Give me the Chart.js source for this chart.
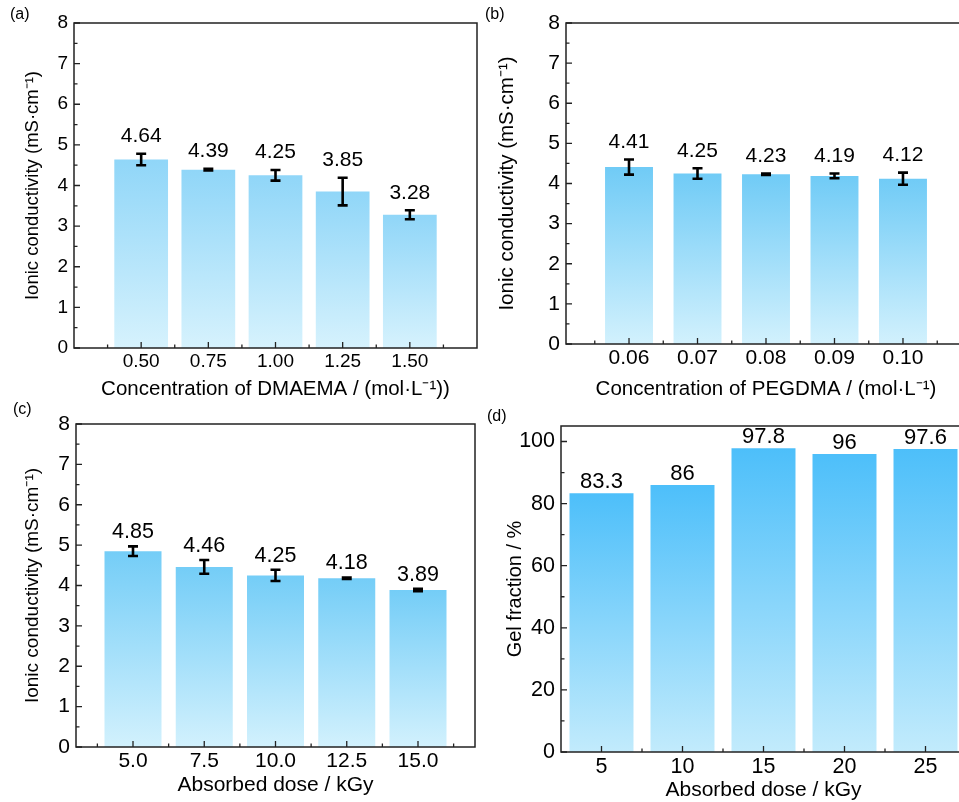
<!DOCTYPE html>
<html>
<head>
<meta charset="utf-8">
<script src="https://cdn.jsdelivr.net/npm/chart.js@4.4.1/dist/chart.umd.min.js"></script>
<style>
  html, body { margin: 0; padding: 0; background: #fff; }
  body { position: relative; width: 959px; height: 802px; overflow: hidden; }
  canvas { position: absolute; }
</style>
</head>
<body>
<canvas id="chartA" width="480" height="402" style="left:0;top:0"></canvas>
<canvas id="chartB" width="490" height="402" style="left:480px;top:0"></canvas>
<canvas id="chartC" width="480" height="398" style="left:0;top:400px"></canvas>
<canvas id="chartD" width="490" height="403" style="left:480px;top:400px"></canvas>
<script>
// (a) ionic conductivity vs DMAEMA concentration
const dmaemaConc = [0.50, 0.75, 1.00, 1.25, 1.50];
const dmaemaLabels = ['0.50', '0.75', '1.00', '1.25', '1.50'];
const dmaemaCond = [4.64, 4.39, 4.25, 3.85, 3.28];
const dmaemaErr = [0.14, 0.02, 0.13, 0.34, 0.11];

// (b) ionic conductivity vs PEGDMA concentration
const pegdmaConc = [0.06, 0.07, 0.08, 0.09, 0.10];
const pegdmaLabels = ['0.06', '0.07', '0.08', '0.09', '0.10'];
const pegdmaCond = [4.41, 4.25, 4.23, 4.19, 4.12];
const pegdmaErr = [0.19, 0.13, 0.02, 0.06, 0.15];

// (c) ionic conductivity vs absorbed dose
const doseC = [5.0, 7.5, 10.0, 12.5, 15.0];
const doseCLabels = ['5.0', '7.5', '10.0', '12.5', '15.0'];
const doseCond = [4.85, 4.46, 4.25, 4.18, 3.89];
const doseCondErr = [0.12, 0.17, 0.14, 0.02, 0.03];

// (d) gel fraction vs absorbed dose
const doseD = [5, 10, 15, 20, 25];
const doseDLabels = ['5', '10', '15', '20', '25'];
const gelFraction = [83.3, 86, 97.8, 96, 97.6];

const condTicks = [0, 1, 2, 3, 4, 5, 6, 7, 8];
const gelTicks = [0, 20, 40, 60, 80, 100];

const FONT = "'Liberation Sans', Arial, sans-serif";

function makePanel(cfg) {
    const step = cfg.xs[1] - cfg.xs[0];

    // frame, inward ticks, error bars, value labels, panel letter
    const decor = {
        id: 'decor' + cfg.canvasId,
        afterDatasetsDraw(chart) {
            const { ctx, chartArea: a } = chart;
            const x = chart.scales.x, y = chart.scales.y;
            ctx.save();

            ctx.strokeStyle = '#222';
            ctx.lineWidth = 1.3;
            ctx.beginPath();
            cfg.xs.forEach(v => {
                const px = x.getPixelForValue(v);
                ctx.moveTo(px, a.bottom); ctx.lineTo(px, a.bottom - 6);
            });
            const minorX = cfg.xs.map(v => v - step / 2).concat([cfg.xs[cfg.xs.length - 1] + step / 2]);
            minorX.filter(v => v > cfg.xMin && v < cfg.xMax).forEach(v => {
                const px = x.getPixelForValue(v);
                ctx.moveTo(px, a.bottom); ctx.lineTo(px, a.bottom - 3.5);
            });
            cfg.yTicks.forEach(v => {
                const py = y.getPixelForValue(v);
                ctx.moveTo(a.left, py); ctx.lineTo(a.left + 6, py);
            });
            for (let v = cfg.yMinor; v < cfg.yMax; v += cfg.yMinor * 2) {
                const py = y.getPixelForValue(v);
                ctx.moveTo(a.left, py); ctx.lineTo(a.left + 3.5, py);
            }
            ctx.stroke();

            ctx.lineWidth = 1.5;
            ctx.strokeRect(a.left, a.top, a.right - a.left, a.bottom - a.top);

            // error bars
            ctx.strokeStyle = '#000';
            ctx.lineWidth = 2.6;
            ctx.beginPath();
            if (cfg.errs) {
                cfg.xs.forEach((v, i) => {
                    const px = x.getPixelForValue(v);
                    const t = y.getPixelForValue(cfg.ys[i] + cfg.errs[i]);
                    const b = y.getPixelForValue(cfg.ys[i] - cfg.errs[i]);
                    ctx.moveTo(px, t); ctx.lineTo(px, b);
                    ctx.moveTo(px - 5, t); ctx.lineTo(px + 5, t);
                    ctx.moveTo(px - 5, b); ctx.lineTo(px + 5, b);
                });
            }
            ctx.stroke();

            // value labels
            ctx.fillStyle = '#000';
            ctx.font = cfg.valueFont + 'px ' + FONT;
            ctx.textAlign = 'center';
            ctx.textBaseline = 'middle';
            cfg.xs.forEach((v, i) => {
                const e = cfg.errs ? cfg.errs[i] : 0;
                const py = y.getPixelForValue(cfg.ys[i] + e) - cfg.labelGap;
                ctx.fillText(cfg.valueFmt(cfg.ys[i]), x.getPixelForValue(v), py);
            });

            ctx.font = '16px ' + FONT;
            ctx.textAlign = 'left';
            ctx.fillText(cfg.letter, cfg.letterPos[0], cfg.letterPos[1]);
            ctx.restore();
        }
    };

    const ctx = document.getElementById(cfg.canvasId).getContext('2d');
    new Chart(ctx, {
        type: 'bar',
        data: {
            datasets: [{
                data: cfg.xs.map((v, i) => ({ x: v, y: cfg.ys[i] })),
                backgroundColor: function (c) {
                    const chart = c.chart;
                    if (!chart.chartArea || c.type !== 'data') return cfg.colors[0];
                    const ys = chart.scales.y;
                    const g = chart.ctx.createLinearGradient(0, ys.getPixelForValue(c.parsed.y), 0, ys.getPixelForValue(0));
                    g.addColorStop(0, cfg.colors[0]);
                    g.addColorStop(1, cfg.colors[1]);
                    return g;
                },
                borderWidth: 0,
                categoryPercentage: 1,
                barPercentage: cfg.barPct
            }]
        },
        options: {
            responsive: false,
            animation: false,
            devicePixelRatio: 1,
            layout: { padding: { top: cfg.padTop, right: cfg.padRight, left: 0, bottom: 0 } },
            plugins: { legend: { display: false }, tooltip: { enabled: false } },
            scales: {
                x: {
                    type: 'linear',
                    offset: false,
                    min: cfg.xMin,
                    max: cfg.xMax,
                    grid: { display: false, drawTicks: false, offset: false },
                    border: { display: false },
                    afterBuildTicks: s => { s.ticks = cfg.xs.map(v => ({ value: v })); },
                    afterFit: s => { s.height = cfg.xHeight; },
                    ticks: {
                        callback: (v, i) => cfg.xLabels[i],
                        autoSkip: false, maxRotation: 0,
                        color: '#000', padding: 2,
                        font: { family: FONT, size: cfg.tickFont }
                    },
                    title: {
                        display: true, text: cfg.xTitle, color: '#000', padding: 0,
                        font: { family: FONT, size: cfg.xTitleFont }
                    }
                },
                y: {
                    type: 'linear',
                    min: 0,
                    max: cfg.yMax,
                    grid: { display: false, drawTicks: false },
                    border: { display: false },
                    afterBuildTicks: s => { s.ticks = cfg.yTicks.map(v => ({ value: v })); },
                    afterFit: s => { s.width = cfg.yWidth; },
                    ticks: {
                        color: '#000', padding: 6,
                        font: { family: FONT, size: cfg.tickFont }
                    },
                    title: {
                        display: true, text: cfg.yTitle, color: '#000',
                        padding: { top: cfg.yTitlePad, bottom: 0 },
                        font: { family: FONT, size: cfg.yTitleFont }
                    }
                }
            }
        },
        plugins: [decor]
    });
}

const fmt2 = v => v.toFixed(2);

makePanel({
    canvasId: 'chartA', letter: '(a)', letterPos: [10, 15],
    xs: dmaemaConc, xLabels: dmaemaLabels, ys: dmaemaCond, errs: dmaemaErr,
    xMin: 0.25, xMax: 1.75, yMax: 8, yTicks: condTicks, yMinor: 0.5,
    xTitle: 'Concentration of DMAEMA / (mol·L⁻¹))', yTitle: 'Ionic conductivity (mS·cm⁻¹)',
    colors: ['#90d6f8', '#d6f2fd'], barPct: 0.8,
    padTop: 23, padRight: 3, yWidth: 74, xHeight: 54, yTitlePad: 22,
    tickFont: 19, xTitleFont: 20.5, yTitleFont: 18.5, valueFont: 21, labelGap: 17.5, valueFmt: fmt2
});

makePanel({
    canvasId: 'chartB', letter: '(b)', letterPos: [5, 15],
    xs: pegdmaConc, xLabels: pegdmaLabels, ys: pegdmaCond, errs: pegdmaErr,
    xMin: 0.0508, xMax: 0.1092, yMax: 8, yTicks: condTicks, yMinor: 0.5,
    xTitle: 'Concentration of PEGDMA / (mol·L⁻¹)', yTitle: 'Ionic conductivity (mS·cm⁻¹)',
    colors: ['#70cbf6', '#d2f1fd'], barPct: 0.7,
    padTop: 23, padRight: 4, yWidth: 86, xHeight: 58, yTitlePad: 15,
    tickFont: 21, xTitleFont: 20.5, yTitleFont: 20.5, valueFont: 21, labelGap: 17, valueFmt: fmt2
});

makePanel({
    canvasId: 'chartC', letter: '(c)', letterPos: [13, 10],
    xs: doseC, xLabels: doseCLabels, ys: doseCond, errs: doseCondErr,
    xMin: 3.0, xMax: 17.0, yMax: 8, yTicks: condTicks, yMinor: 0.5,
    xTitle: 'Absorbed dose / kGy', yTitle: 'Ionic conductivity (mS·cm⁻¹)',
    colors: ['#74cdf7', '#d2f1fd'], barPct: 0.8,
    padTop: 24, padRight: 5, yWidth: 76, xHeight: 51, yTitlePad: 21,
    tickFont: 21, xTitleFont: 21, yTitleFont: 19, valueFont: 21.5, labelGap: 14, valueFmt: fmt2
});

makePanel({
    canvasId: 'chartD', letter: '(d)', letterPos: [7, 17],
    xs: doseD, xLabels: doseDLabels, ys: gelFraction, errs: null,
    xMin: 2.5, xMax: 27.5, yMax: 105, yTicks: gelTicks, yMinor: 10,
    xTitle: 'Absorbed dose / kGy', yTitle: 'Gel fraction / %',
    colors: ['#4dbffa', '#c2ebfc'], barPct: 0.79,
    padTop: 26, padRight: 4, yWidth: 81, xHeight: 51, yTitlePad: 23,
    tickFont: 21.5, xTitleFont: 21, yTitleFont: 20, valueFont: 22, labelGap: 11, valueFmt: v => String(v)
});
</script>
</body>
</html>
